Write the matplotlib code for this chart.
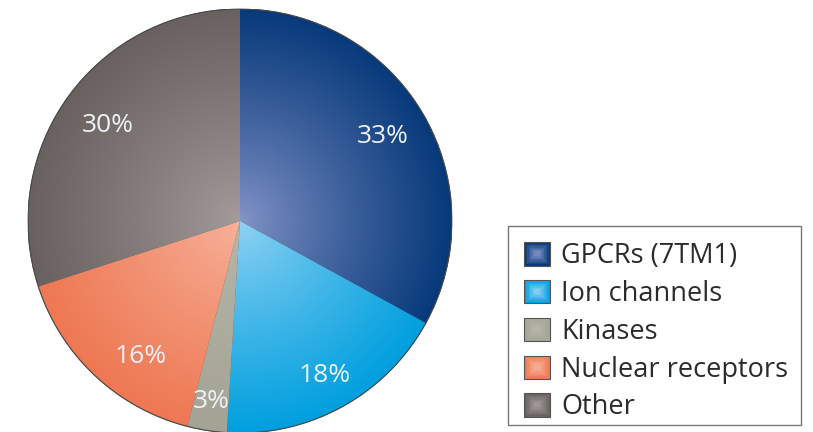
import matplotlib.pyplot as plt
import numpy as np
from matplotlib.colors import to_rgb
from matplotlib.patches import Rectangle
from matplotlib.legend_handler import HandlerBase

categories = ['GPCRs (7TM1)', 'Ion channels', 'Kinases', 'Nuclear receptors', 'Other']
shares = [33, 18, 3, 16, 30]

# radial gradient: colour at the centre, colour at the rim
inner_colors = ['#8595c9', '#93d4f3', '#b6b6aa', '#f7b39c', '#a59d9b']
outer_colors = ['#07397a', '#009fdf', '#a4a496', '#ee7853', '#686160']
label_dist = [0.78, 0.83, 0.86, 0.79, 0.77]
label_turn = [0, 0, 0, 7, 0]

plt.rcParams['font.family'] = ['Open Sans', 'DejaVu Sans']


class GradientBox(HandlerBase):
    """Legend key drawn as nested squares fading from rim colour to centre colour."""

    def __init__(self, inner, outer, steps=8):
        super().__init__()
        self.inner, self.outer, self.steps = np.array(to_rgb(inner)), np.array(to_rgb(outer)), steps

    def create_artists(self, legend, orig_handle, xdescent, ydescent, width, height, fontsize, trans):
        arts = []
        for k in range(self.steps):
            f = k / self.steps
            col = self.outer * (1 - f) + self.inner * f
            dx, dy = width * f * 0.45, height * f * 0.45
            arts.append(Rectangle((-xdescent + dx, -ydescent + dy), width - 2 * dx, height - 2 * dy,
                                  facecolor=col, edgecolor='#555555' if k == 0 else 'none',
                                  lw=0.8, transform=trans))
        return arts


fig = plt.figure(figsize=(8.13, 4.32), dpi=100)
cx, cy, R = 240, 221, 212
ax = fig.add_axes([(cx - R) / 813, (432 - cy - R) / 432, 2 * R / 813, 2 * R / 432])

wedges, _ = ax.pie(shares, colors=outer_colors, startangle=90, counterclock=False,
                   radius=1, wedgeprops=dict(linewidth=0.6, edgecolor='#555555'))
ax.set_xlim(-1, 1)
ax.set_ylim(-1, 1)
ax.set_aspect('equal')
ax.axis('off')

n = 400
gx, gy = np.meshgrid(np.linspace(-1, 1, n), np.linspace(1, -1, n))
rr = np.clip(np.hypot(gx, gy), 0, 1) ** 0.85
for w, c_in, c_out in zip(wedges, inner_colors, outer_colors):
    a, b = np.array(to_rgb(c_in)), np.array(to_rgb(c_out))
    img = a[None, None, :] * (1 - rr[..., None]) + b[None, None, :] * rr[..., None]
    im = ax.imshow(img, extent=(-1, 1, -1, 1), zorder=w.get_zorder() + 0.1,
                   interpolation='bilinear')
    im.set_clip_path(w)

ax.add_patch(plt.Circle((0, 0), 1, fill=False, edgecolor='#4a4a4a', lw=0.8, zorder=5))

# percentage labels at the middle of each wedge
for w, v, d, t in zip(wedges, shares, label_dist, label_turn):
    ang = np.deg2rad((w.theta1 + w.theta2) / 2 + t)
    ax.text(d * np.cos(ang), d * np.sin(ang), '%d%%' % v, ha='center', va='center',
            fontsize=19, color='#eef2f7', zorder=6)

handles = [Rectangle((0, 0), 1, 1) for _ in categories]
hmap = {h: GradientBox(ci, co) for h, ci, co in zip(handles, inner_colors, outer_colors)}
leg = fig.legend(handles, categories, handler_map=hmap, loc='upper left',
                 bbox_to_anchor=(508 / 813, 1 - 226 / 432),
                 fontsize=19.5, frameon=False,
                 handlelength=0.95, handleheight=0.95, handletextpad=0.42,
                 labelspacing=0.36, borderpad=0.6, borderaxespad=0)
for txt in leg.get_texts():
    txt.set_color('#2b2b2b')

# box round the legend; the text boxes carry extra descent at the bottom, so trim it
fig.canvas.draw()
bb = leg.get_window_extent().transformed(fig.transFigure.inverted())
trim = 13 / 432
fig.add_artist(Rectangle((bb.x0, bb.y0 + trim), bb.width - 4 / 813, bb.height - trim,
                         transform=fig.transFigure, fill=False, edgecolor='#777777', lw=1.0))

fig.savefig('out.png', dpi=100)
